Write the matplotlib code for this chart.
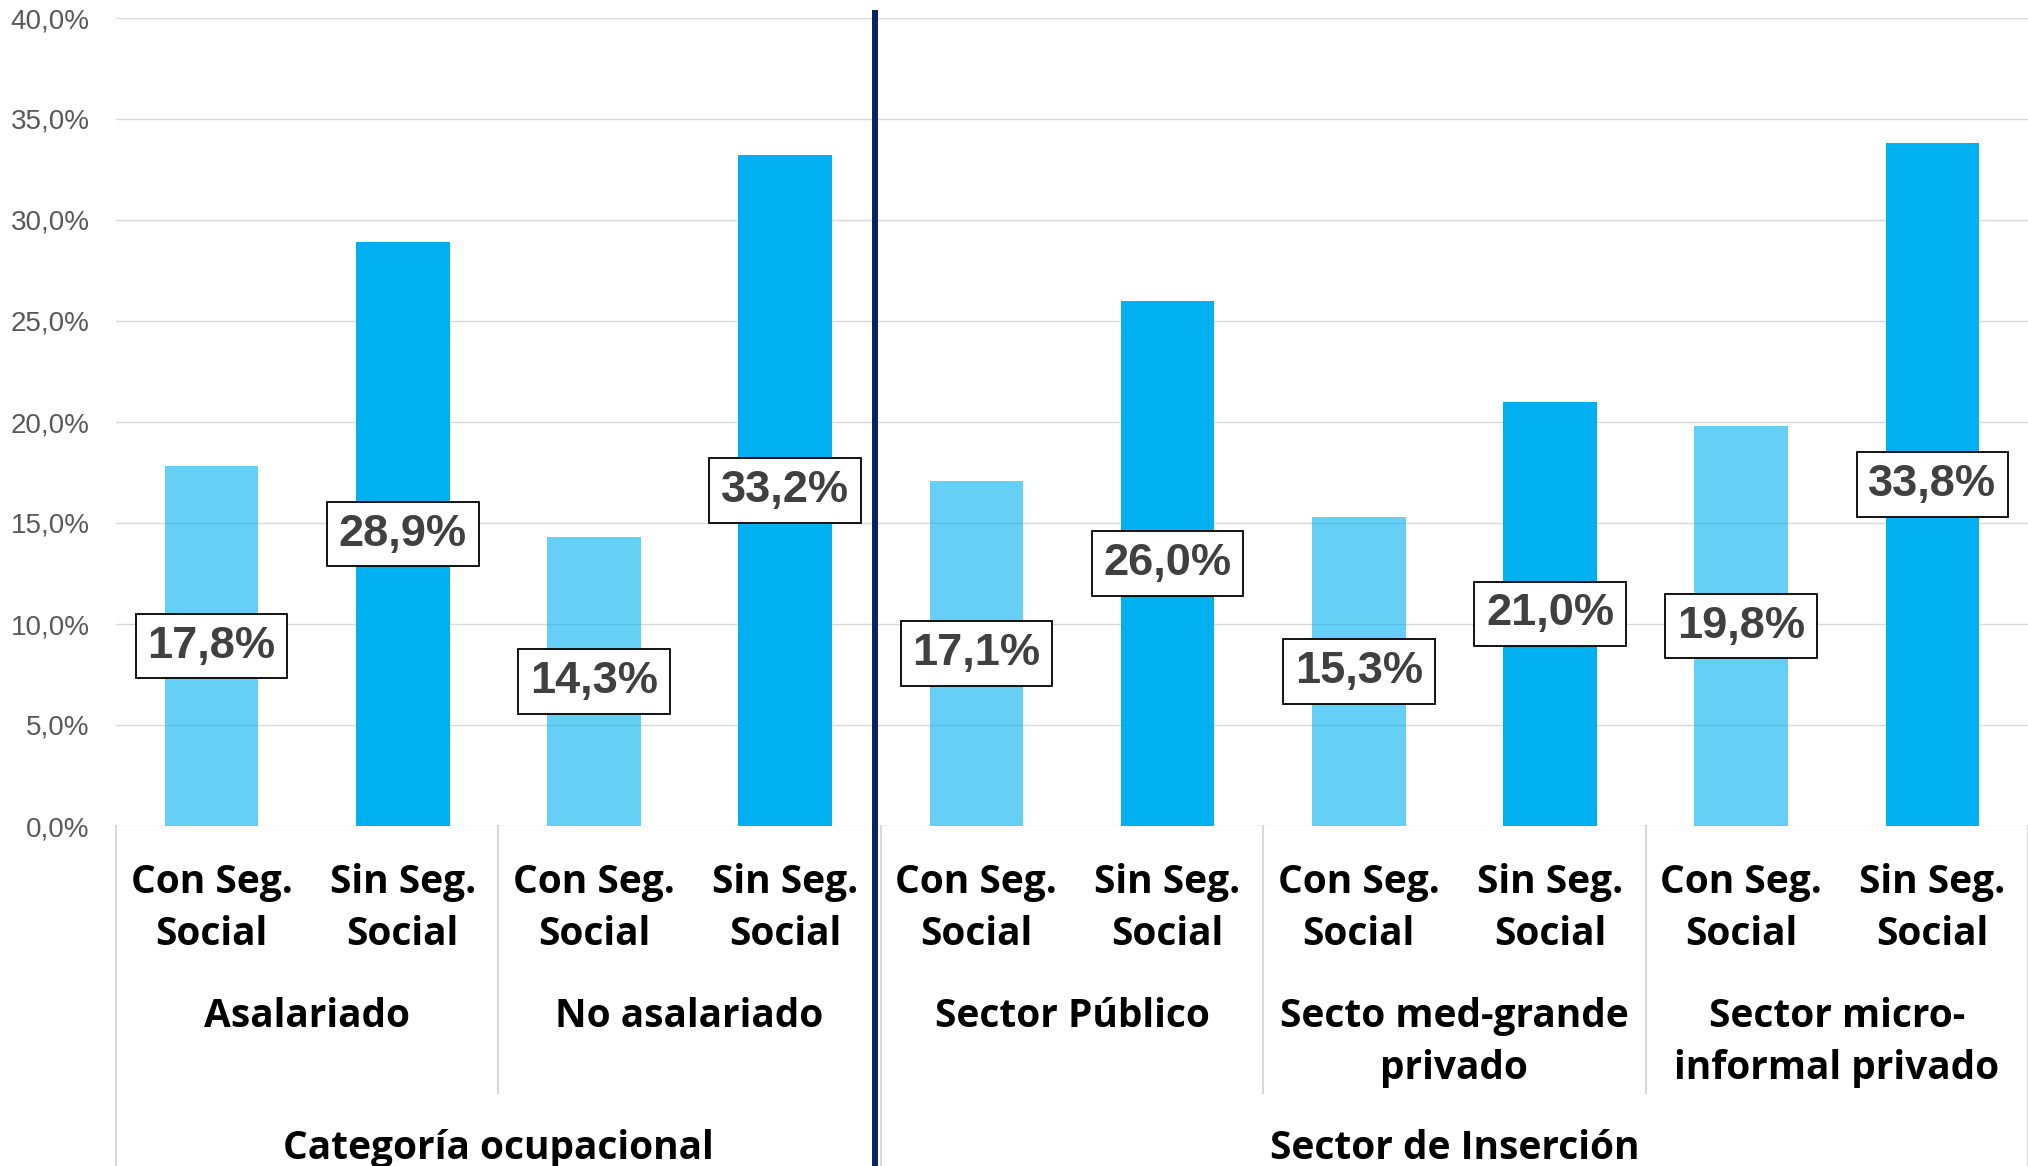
import matplotlib
matplotlib.use("Agg")
import matplotlib.pyplot as plt
from matplotlib.transforms import blended_transform_factory
from matplotlib.ticker import FuncFormatter

W, H = 2028, 1166

# ── data ──────────────────────────────────────────────────────────────────────
sub_labels = ["Con Seg.\nSocial", "Sin Seg.\nSocial"] * 5
group_labels = ["Asalariado", "No asalariado", "Sector Público",
                "Secto med-grande\nprivado", "Sector micro-\ninformal privado"]
top_labels = ["Categoría ocupacional", "Sector de Inserción"]
values = [17.8, 28.9, 14.3, 33.2, 17.1, 26.0, 15.3, 21.0, 19.8, 33.8]

BLUE = "#00B0F0"
GRID = "#D9D9D9"
NAVY = "#0B2263"
CAT_FONT = "Open Sans"
NUM_FONT = "Liberation Sans"
CAT_SIZE = 28


def pct(v):
    return f"{v:.1f}%".replace(".", ",")


def fy(py):
    # pixel row (from top) -> figure fraction
    return 1 - py / H


fig = plt.figure(figsize=(W / 100, H / 100), dpi=100)
ax = fig.add_axes([116 / W, fy(826), (W - 116) / W, 808 / H])
ax.set_xlim(-0.5, len(values) - 0.5)
ax.set_ylim(0, 40)

xs = list(range(len(values)))
for x, v in zip(xs, values):
    a = 0.6 if x % 2 == 0 else 1.0
    ax.bar(x, v, width=0.49, color=BLUE, alpha=a, zorder=2, lw=0)
    ax.text(x, v / 2, pct(v), ha="center", va="center", fontsize=32.5,
            fontweight="bold", family=NUM_FONT, color="#404040", zorder=4,
            bbox=dict(boxstyle="square,pad=0.26", fc="white", ec="black", lw=1.3))

# axes styling
ax.set_yticks(range(0, 41, 5))
ax.yaxis.set_major_formatter(FuncFormatter(lambda v, p: pct(v)))
ax.tick_params(axis="y", length=0, pad=19, labelsize=20, labelcolor="#595959")
for lab in ax.get_yticklabels():
    lab.set_family(NUM_FONT)
ax.set_xticks([])
ax.grid(axis="y", color=GRID, lw=1.0, zorder=0)
ax.set_axisbelow(True)
for s in ax.spines.values():
    s.set_visible(False)

# ── category axis (multi-level labels) ───────────────────────────────────────
tr = blended_transform_factory(ax.transData, fig.transFigure)
LINE = 52.3

for x, lab in zip(xs, sub_labels):
    for k, line in enumerate(lab.split("\n")):
        ax.text(x, fy(893 + k * LINE), line, transform=tr, ha="center",
                va="baseline", fontsize=CAT_SIZE, fontweight="bold",
                family=CAT_FONT, color="black", clip_on=False)

for g, lab in enumerate(group_labels):
    for k, line in enumerate(lab.split("\n")):
        ax.text(2 * g + 0.5, fy(1027 + k * LINE), line, transform=tr,
                ha="center", va="baseline", fontsize=CAT_SIZE, fontweight="bold",
                family=CAT_FONT, color="black", clip_on=False)

for cx, lab in zip([1.5, 6.5], top_labels):
    ax.text(cx, fy(1159), lab, transform=tr, ha="center", va="baseline",
            fontsize=CAT_SIZE, fontweight="bold", family=CAT_FONT,
            color="black", clip_on=False)

# separators between groups
for bx in [-0.5, 3.5, 9.5]:
    ax.plot([bx, bx], [fy(826), 0], transform=tr, color=GRID, lw=1.5,
            clip_on=False, zorder=1)
for bx in [1.5, 5.5, 7.5]:
    ax.plot([bx, bx], [fy(826), fy(1093)], transform=tr, color=GRID, lw=1.5,
            clip_on=False, zorder=1)

# navy divider between the two blocks
ax.plot([3.5 - 6 / 191.2, 3.5 - 6 / 191.2], [fy(10), 0], transform=tr,
        color=NAVY, lw=4.3, clip_on=False, zorder=5, solid_capstyle="butt")

fig.savefig("out.png", dpi=100)
